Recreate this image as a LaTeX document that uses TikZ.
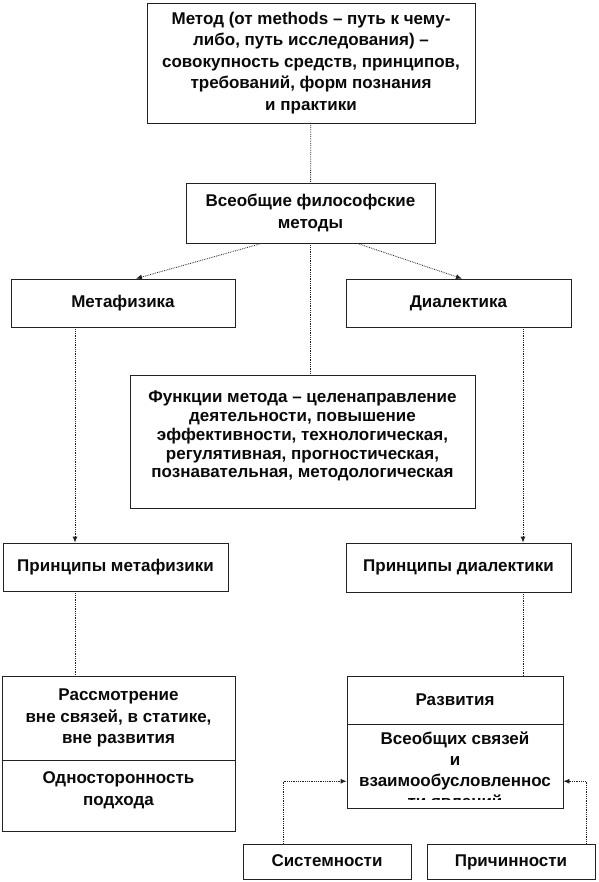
\documentclass[tikz,border=0pt]{standalone}
\usepackage{fontspec}
\setmainfont{Liberation Sans}
\usetikzlibrary{arrows.meta}
\definecolor{Ink}{HTML}{0A0A0A}
\definecolor{Rule}{HTML}{222222}
\tikzset{
 box/.style={draw=Rule, line width=0.8pt, fill=white, align=center, inner sep=2pt, text=Ink, font=\fontsize{17}{21.5}\selectfont\bfseries},
 tightbox/.style={box, font=\fontsize{17}{18.7}\selectfont\bfseries},
 smallbox/.style={box, minimum width=168pt, minimum height=35pt, text height=12pt, text depth=3pt},
 link/.style={draw=Rule, densely dotted, line width=0.8pt},
 arrow/.style={link, -{Latex[length=6pt,width=5pt]}}
}
\begin{document}
\begin{tikzpicture}[x=1pt,y=-1pt]
\useasboundingbox[fill=white] (0,0) rectangle (598,882);
\node[box, minimum width=328pt, minimum height=120pt] (metod) at (311,63) {Метод (от methods -- путь к чему-\\либо, путь исследования) --\\совокупность средств, принципов,\\требований, форм познания\\и практики};
\node[box, minimum width=249pt, minimum height=60pt] (vseob) at (310.5,213) {Всеобщие философские\\методы};
\node[box, minimum width=224pt, minimum height=48pt] (metaf) at (123,303) {Метафизика};
\node[box, minimum width=225pt, minimum height=48pt] (dial) at (458.5,303) {Диалектика};
\node[tightbox, minimum width=345pt, minimum height=133pt, text depth=14pt] (func) at (302.5,441.5) {Функции метода -- целенаправление\\деятельности, повышение\\эффективности, технологическая,\\регулятивная, прогностическая,\\познавательная, методологическая};
\node[box, minimum width=225pt, minimum height=48pt] (pmetaf) at (115.5,567) {Принципы метафизики};
\node[box, minimum width=225pt, minimum height=49pt] (pdial) at (458.5,567.5) {Принципы диалектики};
\node[box, minimum width=233pt, minimum height=84pt] (rass) at (118.5,718) {Рассмотрение\\вне связей, в статике,\\вне развития};
\node[box, minimum width=233pt, minimum height=71pt, text depth=14pt] (odnost) at (118.5,795.5) {Односторонность\\подхода};
\node[box, minimum width=216pt, minimum height=48pt] (razv) at (455,700) {Развития};
\node[box, minimum width=216pt, minimum height=84pt] (vseobsv) at (455,766) {};
\begin{scope}
\clip (vseobsv.north west) rectangle ([yshift=9pt]vseobsv.south east);
\node[align=center, text=Ink, inner sep=2pt, anchor=north, font=\fontsize{17}{21}\selectfont\bfseries] (vstext) at (455,730) {Всеобщих связей\\и\\взаимообусловленнос\\ти явлений};
\end{scope}
\node[smallbox] (sist) at (327,861.5) {Системности};
\node[smallbox] (prich) at (511,861.5) {Причинности};
% columns of the vertical connectors
\coordinate (lcol) at (75,0);
\coordinate (rcol) at (523,0);
\coordinate (scol) at (283,0);
\coordinate (pcol) at (586,0);
\draw[link] (metod) -- (vseob);
\draw[link] (vseob.south) -- (vseob.south |- func.north);
\draw[arrow] (vseob.212) -- (metaf.62);
\draw[arrow] (vseob.327) -- (dial.82);
\foreach \a/\b/\c in {metaf/pmetaf/lcol, dial/pdial/rcol}{
 \draw[arrow] (\a.south -| \c) -- (\b.north -| \c);}
\draw[link] (pmetaf.south -| lcol) -- (rass.north -| lcol);
\draw[link] (pdial.south -| rcol) -- (razv.north -| rcol);
\draw[arrow] (sist.north -| scol) |- (vseobsv.188);
\draw[arrow] (prich.north -| pcol) |- (vseobsv.352);
\end{tikzpicture}
\end{document}
